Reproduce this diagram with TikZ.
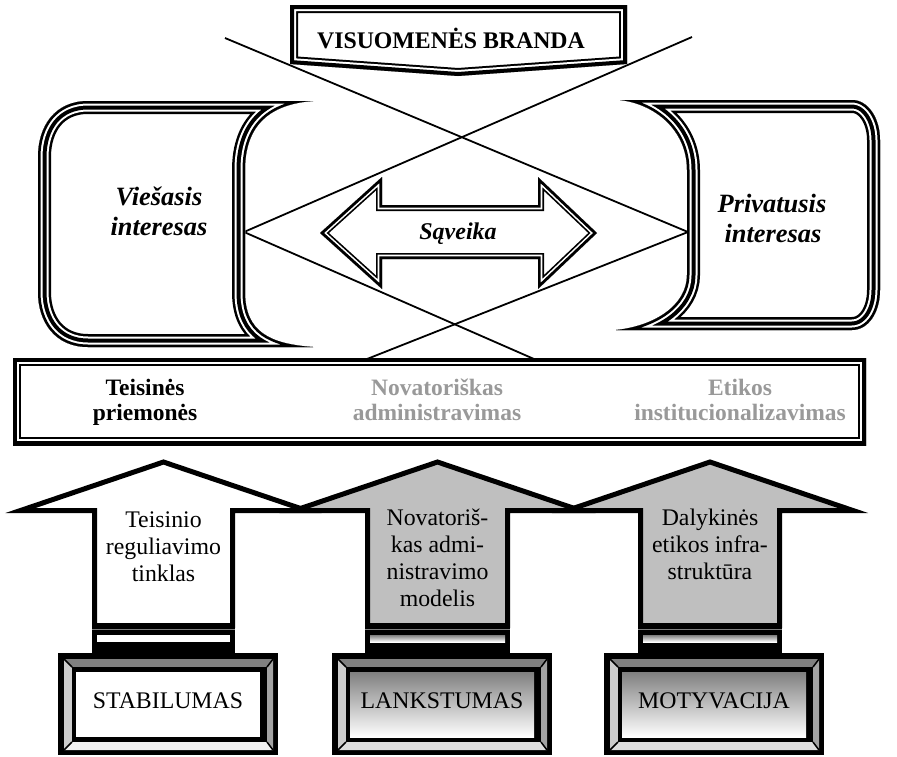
\documentclass[tikz,border=0pt]{standalone}
\usepackage{fontspec}
\setmainfont{Liberation Serif}

% outlines of the framed shapes (1 unit = 1pt, y grows downwards)
\newcommand{\bannerpath}{(290,5) -- (627,5) -- (627,64) -- (458,76) -- (290,64) -- cycle}
\newcommand{\lscrollpath}{(88,101) -- (313,101) .. controls (270,104) and (245,125) .. (245,170) -- (245,292) .. controls (245,332) and (270,344) .. (313,347) -- (88,347) .. controls (55,347) and (38,322) .. (38,292) -- (38,157) .. controls (38,126) and (55,101) .. (88,101) -- cycle}
\newcommand{\rscrollpath}{(620,100) -- (852,100) .. controls (868,100) and (880,118) .. (880,140) -- (880,290) .. controls (880,313) and (868,330) .. (852,330) -- (616,330) .. controls (655,326) and (687,305) .. (687,275) -- (687,170) .. controls (687,130) and (655,104) .. (620,100) -- cycle}
\newcommand{\swappath}{(320,233) -- (382,177) -- (382,205) -- (538,205) -- (538,177) -- (597,233) -- (538,289) -- (538,259) -- (382,259) -- (382,289) -- cycle}
\newcommand{\bandpath}{(13,358) -- (866,358) -- (866,445) -- (13,445) -- cycle}

% white shape with a compound border drawn inside its outline
\newcommand{\compoundshape}[2]{%
  \fill[white] #1;
  \begin{scope}
    \clip #1;
    \foreach \lw/\lc in {#2} {\draw[color=\lc, line width=\lw pt, line join=miter] #1;}
  \end{scope}}

% bevelled label box: #1 left x, #2 face, #3 left bevel, #4 bottom bevel, #5 name, #6 text
\newcommand{\bevelbox}[6]{%
  \begin{scope}[shift={(#1,653)}]
    \fill[black] (0,0) rectangle (220,102);
    \fill[bevtop] (6,6) -- (215,6) -- (209,14) -- (14,14) -- cycle;
    \fill[#3] (6,6) -- (14,14) -- (14,89) -- (6,97) -- cycle;
    \fill[bevright] (215,6) -- (215,97) -- (209,89) -- (209,14) -- cycle;
    \fill[#4] (6,97) -- (215,97) -- (209,89) -- (14,89) -- cycle;
    \draw[line width=1.5pt] (6,6) -- (14,14) (215,6) -- (209,14) (215,97) -- (209,89) (6,97) -- (14,89);
    \fill[black] (14,14) rectangle (209,89);
    \fill[#2] (18,19) rectangle (202,84);
    \node[plain] (#5) at (110,55) {#6};
  \end{scope}}

\definecolor{bevtop}{gray}{0.5}
\definecolor{bevright}{gray}{0.64}
\definecolor{lightbev}{gray}{0.8}
\definecolor{palebev}{gray}{0.95}
\definecolor{midbev}{gray}{0.87}
\definecolor{shade}{gray}{0.75}
\definecolor{dimtext}{gray}{0.6}

\begin{document}
\begin{tikzpicture}[x=1pt, y=-1pt,
  connector/.style={line width=1.8pt},
  arrowbody/.style={draw, line width=5pt, line join=miter},
  plain/.style={font=\fontsize{23.8}{27}\selectfont, anchor=base, inner sep=0pt},
  headline/.style={font=\bfseries\fontsize{23.8}{27}\selectfont, anchor=base, inner sep=0pt},
  bandtext/.style={font=\bfseries\fontsize{23.5}{26}\selectfont, anchor=base, inner sep=0pt},
  scrolltext/.style={font=\bfseries\itshape\fontsize{26.4}{30}\selectfont, anchor=base, inner sep=0pt},
  swaptext/.style={font=\bfseries\itshape\fontsize{24}{27}\selectfont, anchor=base, inner sep=0pt},
]
\useasboundingbox (0,0) rectangle (897,756);

% crossing lines between the two interests
\coordinate (tl) at (225,38);
\coordinate (tr) at (692,37);
\coordinate (vl) at (244,232);
\coordinate (vr) at (688,232);
\coordinate (bl) at (367,359);
\coordinate (br) at (534,359);
\draw[connector] (tl) -- (vr);
\draw[connector] (tr) -- (vl);
\draw[connector] (vl) -- (br);
\draw[connector] (vr) -- (bl);

% top banner
\compoundshape{\bannerpath}{16/black,12/white,8/black}
\node[headline] (maturity) at (451,48) {VISUOMENĖS BRANDA};

% public and private interest
\compoundshape{\lscrollpath}{26/black,21/white,17/black,9/white,5/black}
\node[scrolltext] (pub1) at (159,205) {Viešasis};
\node[scrolltext] (pub2) at (159,235) {interesas};
\compoundshape{\rscrollpath}{26/black,21/white,17/black,9/white,5/black}
\node[scrolltext] (priv1) at (772,212) {Privatusis};
\node[scrolltext] (priv2) at (773,242) {interesas};

% interaction arrow
\compoundshape{\swappath}{12/black,8.6/white,5.4/black}
\node[swaptext] (swap) at (458,239) {Sąveika};

% band of measures
\compoundshape{\bandpath}{16/black,12/white,8/black}
\node[bandtext] (m1a) at (145,395) {Teisinės};
\node[bandtext] (m1b) at (145,420) {priemonės};
\node[bandtext, text=dimtext] (m2a) at (437,395) {Novatoriškas};
\node[bandtext, text=dimtext] (m2b) at (437,420) {administravimas};
\node[bandtext, text=dimtext] (m3a) at (740,395) {Etikos};
\node[bandtext, text=dimtext] (m3b) at (740,420) {institucionalizavimas};

% upward block arrows
\draw[arrowbody, fill=white] (163.5,462) -- (306.5,510.5) -- (232.5,510.5) -- (232.5,625.5) -- (94.5,625.5) -- (94.5,510.5) -- (20.5,510.5) -- cycle;
\draw[arrowbody, fill=shade] (437.5,462) -- (580.5,510.5) -- (507.5,510.5) -- (507.5,625.5) -- (367.5,625.5) -- (367.5,510.5) -- (294.5,510.5) -- cycle;
\draw[arrowbody, fill=shade] (710,462) -- (853,510.5) -- (779.5,510.5) -- (779.5,625.5) -- (640.5,625.5) -- (640.5,510.5) -- (567,510.5) -- cycle;

\node[plain] (a1a) at (163.5,527) {Teisinio};
\node[plain] (a1b) at (163.5,554) {reguliavimo};
\node[plain] (a1c) at (163.5,581) {tinklas};
\node[plain] (a2a) at (437.5,525) {Novatoriš-};
\node[plain] (a2b) at (437.5,552) {kas admi-};
\node[plain] (a2c) at (437.5,579) {nistravimo};
\node[plain] (a2d) at (437.5,606) {modelis};
\node[plain] (a3a) at (710,525) {Dalykinės};
\node[plain] (a3b) at (710,552) {etikos infra-};
\node[plain] (a3c) at (710,579) {struktūra};

% necks between arrows and boxes
\fill (92,628) rectangle (235,655);
\fill[white] (97,635) rectangle (230,642);
\fill (365,628) rectangle (510,655);
\fill[shade] (370,635) rectangle (505,642);
\fill (638,628) rectangle (782,655);
\fill[shade] (643,635) rectangle (777,642);
\draw[gray, line width=0.6pt] (92,629.5) -- (235,629.5) (365,629.5) -- (510,629.5) (638,629.5) -- (782,629.5);

% bevelled boxes
\bevelbox{58}{white}{lightbev}{palebev}{stab}{STABILUMAS}
\bevelbox{332}{shade}{lightbev}{midbev}{flex}{LANKSTUMAS}
\bevelbox{604}{shade}{lightbev}{midbev}{motiv}{MOTYVACIJA}
\end{tikzpicture}
\end{document}
